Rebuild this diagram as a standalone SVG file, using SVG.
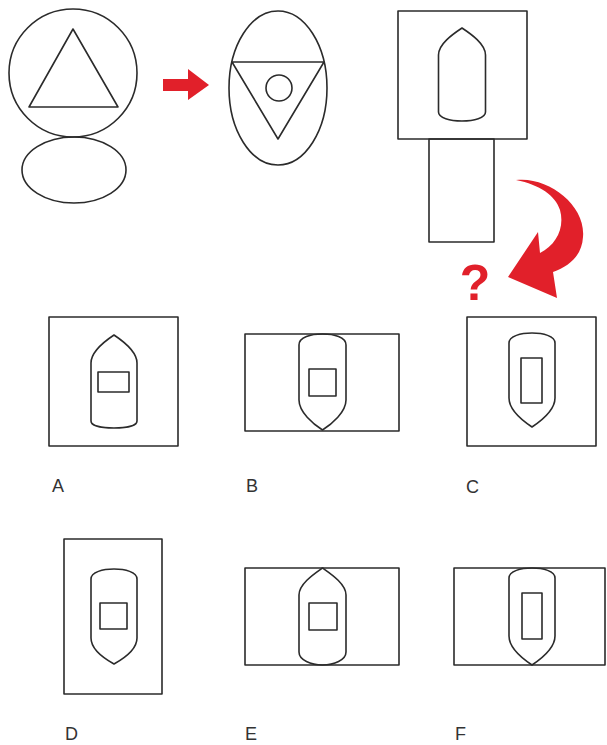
<svg xmlns="http://www.w3.org/2000/svg" width="607" height="745" viewBox="0 0 607 745">
<style>
.s{fill:none;stroke:#2b2b2b;stroke-width:1.6;stroke-linejoin:round}
.lbl{font-family:"Liberation Sans",Arial,sans-serif;font-size:18px;fill:#333}
.red{fill:#e1202a}
</style>
<rect width="607" height="745" fill="#fff"/>
<g id="fig-circle">
<circle class="s" cx="73" cy="73" r="64"/>
<polygon class="s" points="73,29 29,107 118,107"/>
<ellipse class="s" cx="74" cy="170" rx="52" ry="33"/>
</g>
<g id="fig-oval">
<ellipse class="s" cx="278" cy="88" rx="49" ry="77"/>
<polygon class="s" points="232,62 324,62 278,139"/>
<circle class="s" cx="279" cy="88" r="13"/>
</g>
<g id="fig-square">
<rect class="s" x="398" y="11" width="129" height="128"/>
<rect class="s" x="429" y="139" width="65" height="103"/>
<path class="s" d="M462,28 C471,34 485.5,44 485.5,55 L485.5,112 C485.5,118 474,121 462,121 C450,121 438.5,118 438.5,112 L438.5,55 C438.5,44 453,34 462,28 Z"/>
</g>
<g id="connectors">
<path class="red" d="M163,79 L188,79 L188,69 L209,85 L188,100 L188,91 L163,91 Z"/>
<path class="red" d="M516,180 C548,176 586,205 583,237 C582,255 570,266 553,272 L557,298 L508,277 L538,232 L540,253 C556,245 565,228 560,210 C555,195 540,185 516,180 Z"/>
</g>
<g id="question">
<text x="475" y="300" text-anchor="middle" style="font-family:'Liberation Sans',Arial,sans-serif;font-size:50px;font-weight:bold" class="red">?</text>
</g>
<g id="opt-A">
<rect class="s" x="49" y="317" width="129" height="129"/>
<path class="s" d="M114,335 C123,341 137,351 137,363 L137,421 C137,426 126,428 114,428 C102,428 91,426 91,421 L91,363 C91,351 105,341 114,335 Z"/>
<rect class="s" x="98" y="372" width="31" height="20"/>
<text class="lbl" x="52" y="492">A</text>
</g>
<g id="opt-B">
<rect class="s" x="245" y="334" width="154" height="97"/>
<path class="s" d="M322.5,334 C334,334 346,337 346,345 L346,400 C346,412 332,424 322.5,430 C313,424 299,412 299,400 L299,345 C299,337 311,334 322.5,334 Z"/>
<rect class="s" x="309" y="369" width="27" height="27"/>
<text class="lbl" x="246" y="492">B</text>
</g>
<g id="opt-C">
<rect class="s" x="467" y="317" width="129" height="129"/>
<path class="s" d="M532,333 C543,333 555,336 555,343 L555,398 C555,410 541,421 532,427 C523,421 509,410 509,398 L509,343 C509,336 521,333 532,333 Z"/>
<rect class="s" x="521" y="358" width="21" height="45"/>
<text class="lbl" x="466" y="493">C</text>
</g>
<g id="opt-D">
<rect class="s" x="64" y="539" width="98" height="155"/>
<path class="s" d="M114,569 C125,569 137,572 137,579 L137,638 C137,650 123,659 114,664 C105,659 91,650 91,638 L91,579 C91,572 103,569 114,569 Z"/>
<rect class="s" x="100" y="603" width="27" height="26"/>
<text class="lbl" x="65" y="740">D</text>
</g>
<g id="opt-E">
<rect class="s" x="245" y="568" width="154" height="97"/>
<path class="s" d="M322.5,568 C331,574 346,584 346,595 L346,652 C346,660 334,665 322.5,665 C311,665 299,660 299,652 L299,595 C299,584 314,574 322.5,568 Z"/>
<rect class="s" x="309" y="603" width="28" height="27"/>
<text class="lbl" x="245" y="740">E</text>
</g>
<g id="opt-F">
<rect class="s" x="454" y="568" width="151" height="97"/>
<path class="s" d="M532,568 C543,568 555,571 555,578 L555,636 C555,648 541,659 532,665 C523,659 509,648 509,636 L509,578 C509,571 521,568 532,568 Z"/>
<rect class="s" x="522" y="593" width="20" height="46"/>
<text class="lbl" x="455" y="740">F</text>
</g>
</svg>
